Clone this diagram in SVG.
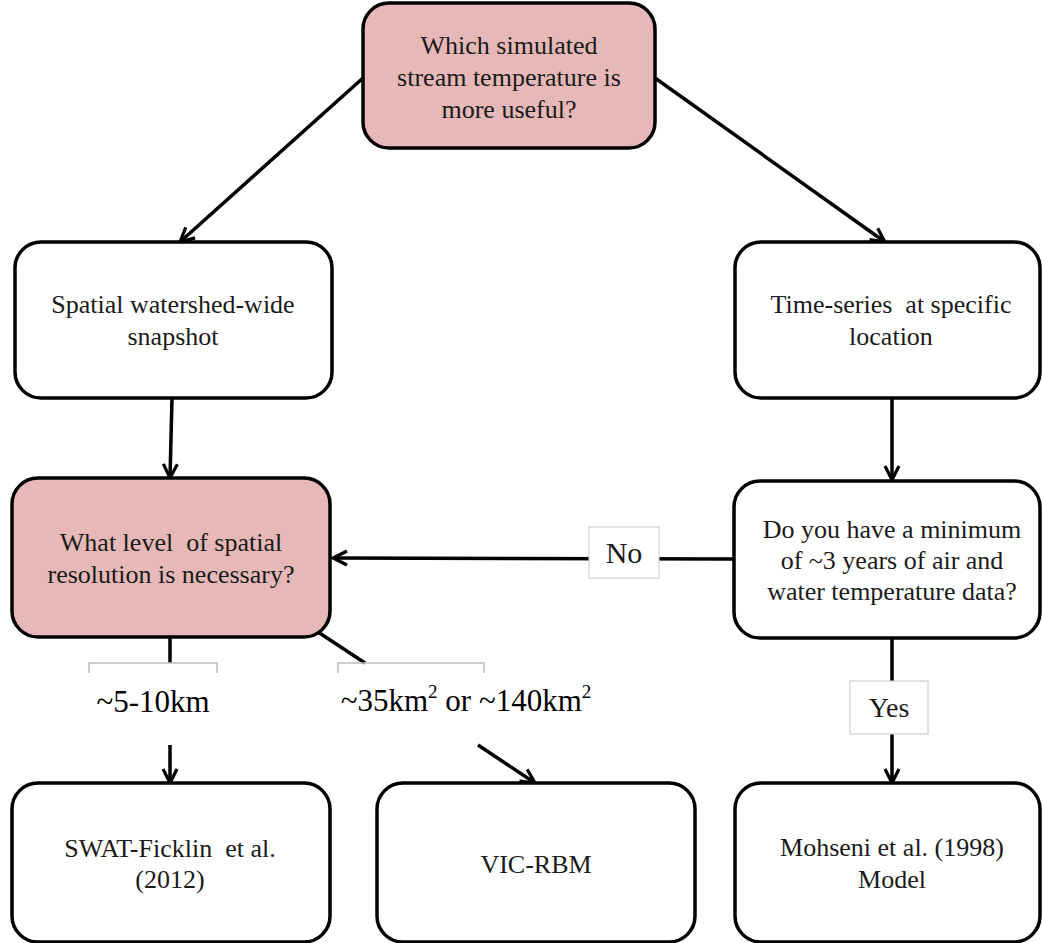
<svg xmlns="http://www.w3.org/2000/svg" width="1042" height="943" viewBox="0 0 1042 943" font-family="'Liberation Serif', 'Times New Roman', serif">
<style>
.box{fill:#ffffff;stroke:#000;stroke-width:3.5}
.pink{fill:#E6B8B7;stroke:#000;stroke-width:3.5}
.txt{font-family:"Liberation Serif","Times New Roman",serif;font-size:26px;fill:#1a1a1a;text-anchor:middle}
.big{font-family:"Liberation Serif","Times New Roman",serif;font-size:31px;fill:#000;text-anchor:middle}
.conn{stroke:#000;stroke-width:3.5;fill:none}
.lab{fill:#fff;stroke:#cfcfcf;stroke-width:1.2}
.br{fill:none;stroke:#bdbdbd;stroke-width:1.5}
</style>
<defs>
<marker id="arr" markerUnits="userSpaceOnUse" viewBox="0 0 18 18" refX="16" refY="9" markerWidth="18" markerHeight="18" orient="auto">
<path d="M2,2 L16,9 L2,16" fill="none" stroke="#000" stroke-width="3.2"/>
</marker>
</defs>
<rect width="1042" height="943" fill="#fff"/>
<g id="connectors">
<path class="conn" d="M363,78 L180,242" marker-end="url(#arr)"/>
<path class="conn" d="M655,78 L885,242" marker-end="url(#arr)"/>
<path class="conn" d="M172,398 L170,478" marker-end="url(#arr)"/>
<path class="conn" d="M892,398 L892,480" marker-end="url(#arr)"/>
<path class="conn" d="M734,559 L333,558" marker-end="url(#arr)"/>
<path class="conn" d="M892,638 L892,783" marker-end="url(#arr)"/>
<path class="conn" d="M170,637 L170,663"/>
<path class="conn" d="M170,745 L170,783" marker-end="url(#arr)"/>
<path class="conn" d="M318,632 L365,663"/>
<path class="conn" d="M478,745 L535,783" marker-end="url(#arr)"/>
<g id="label-no">
<rect class="lab" x="589" y="527" width="70" height="51"/>
<text class="txt" x="624" y="563" font-size="30" style="font-size:30px">No</text>
</g>
<g id="label-yes">
<rect class="lab" x="850" y="681" width="78" height="53"/>
<text class="txt" x="889" y="717" style="font-size:28px">Yes</text>
</g>
<g id="label-5-10">
<polyline class="br" points="89,673 89,663 217,663 217,673"/>
<text class="big" x="153" y="712">~5-10km</text>
</g>
<g id="label-35">
<polyline class="br" points="338,673 338,663 484,663 484,673"/>
<text class="big" x="466" y="711">~35km<tspan font-size="19" dy="-13">2</tspan><tspan dy="13"> or ~140km</tspan><tspan font-size="19" dy="-13">2</tspan></text>
</g>
</g>
<g id="n-top">
<rect class="pink" x="363" y="3" width="292" height="145" rx="26"/>
<text class="txt" x="509" y="54">Which simulated</text>
<text class="txt" x="509" y="86">stream temperature is</text>
<text class="txt" x="509" y="118">more useful?</text>
</g>
<g id="n-spatial">
<rect class="box" x="15" y="242" width="317" height="156" rx="26"/>
<text class="txt" x="173" y="313">Spatial watershed-wide</text>
<text class="txt" x="173" y="345">snapshot</text>
</g>
<g id="n-time">
<rect class="box" x="735" y="242" width="305" height="156" rx="26"/>
<text class="txt" x="891" y="313" xml:space="preserve">Time-series  at specific</text>
<text class="txt" x="891" y="345">location</text>
</g>
<g id="n-level">
<rect class="pink" x="12" y="478" width="318" height="159" rx="26"/>
<text class="txt" x="171" y="551" xml:space="preserve">What level  of spatial</text>
<text class="txt" x="171" y="583">resolution is necessary?</text>
</g>
<g id="n-data">
<rect class="box" x="734" y="481" width="306" height="157" rx="26"/>
<text class="txt" x="892" y="538">Do you have a minimum</text>
<text class="txt" x="892" y="569">of ~3 years of air and</text>
<text class="txt" x="892" y="600">water temperature data?</text>
</g>
<g id="n-swat">
<rect class="box" x="12" y="783" width="318" height="159" rx="26"/>
<text class="txt" x="170" y="857" xml:space="preserve">SWAT-Ficklin  et al.</text>
<text class="txt" x="170" y="888">(2012)</text>
</g>
<g id="n-vic">
<rect class="box" x="377" y="783" width="318" height="159" rx="26"/>
<text class="txt" x="536" y="873">VIC-RBM</text>
</g>
<g id="n-mohseni">
<rect class="box" x="735" y="783" width="305" height="159" rx="26"/>
<text class="txt" x="892" y="856">Mohseni et al. (1998)</text>
<text class="txt" x="892" y="888">Model</text>
</g>
</svg>
